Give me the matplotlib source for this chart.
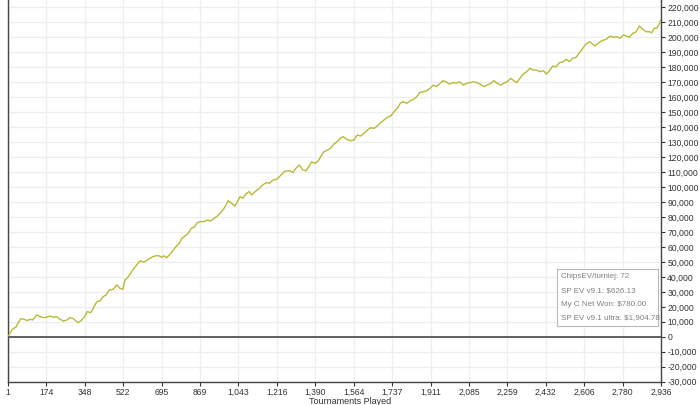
import numpy as np
import matplotlib
matplotlib.use("Agg")
import matplotlib.pyplot as plt
from matplotlib.patches import Rectangle

# cumulative chips vs tournaments played
tourneys = [1, 10, 22, 37, 47, 59, 73, 88, 100, 112, 130, 145, 163, 175, 190, 205, 220, 235,
            250, 265, 280, 295, 307, 317, 332, 347, 357, 373, 384, 400, 414, 429, 441, 456,
            474, 490, 504, 517, 527, 542,
            564, 579, 594, 612, 632, 647, 662, 677, 692, 702, 714, 726, 741, 756, 771, 782,
            797, 811, 824, 837, 852, 867, 882, 897, 912, 927, 942, 954, 969, 981, 991, 1003,
            1021, 1032, 1044, 1056, 1071, 1086,
            1096, 1111, 1126, 1146, 1161, 1175, 1193, 1209, 1224, 1242, 1256, 1269, 1281,
            1295, 1310, 1326, 1340, 1355, 1366, 1381, 1396, 1411, 1421, 1436, 1451, 1466,
            1481, 1493, 1508, 1523, 1541, 1556, 1571, 1586, 1601, 1620,
            1631, 1646, 1661, 1676, 1691, 1706, 1721, 1736, 1751, 1766, 1778, 1793, 1808,
            1823, 1838, 1853, 1868, 1883, 1898, 1913, 1925, 1940, 1955, 1970, 1985, 2000,
            2015, 2030, 2048, 2063, 2078, 2092, 2108, 2122,
            2140, 2155, 2171, 2185, 2200, 2215, 2230, 2245, 2260, 2275, 2287, 2302, 2317,
            2332, 2347, 2362, 2377, 2392, 2407, 2422, 2437, 2449, 2464, 2479, 2497, 2509,
            2524, 2539, 2554, 2569, 2584, 2599, 2614, 2629, 2639, 2654, 2669, 2689,
            2707, 2722, 2737, 2752, 2767, 2782, 2794, 2809, 2824, 2839, 2854, 2869, 2884,
            2894, 2905, 2917, 2929, 2936]
chips = [0, 2500, 5200, 6500, 9400, 12100, 11700, 10800, 11700, 11200, 14600, 13400, 12800,
         13000, 13900, 13000, 13400, 11700, 10500, 11200, 12800, 12100, 10500, 9400, 11200,
         13900, 16800, 16100, 19000, 23400, 23900, 26800, 27900, 31200, 31700, 34600, 32400,
         31700, 37900, 40100,
         45100, 47900, 50600, 49900, 51700, 53100, 54000, 54200, 53100, 54000, 52800, 54600,
         57300, 60200, 62400, 65800, 67300, 69100, 72400, 73100, 76200, 76900, 76900, 78000,
         77300, 79100, 80700, 82500, 85100, 88000, 90900, 89500, 87300, 90200, 93500, 92500,
         95500, 97000,
         94700, 96900, 98500, 101400, 102900, 102500, 104700, 105200, 107400, 110200, 110900,
         110900, 109600, 112500, 114700, 111400, 110900, 114000, 116900, 115800, 117600,
         121400, 123600, 124700, 125900, 128700, 130300, 132500, 133600, 131900, 130900,
         131400, 134700, 134100, 135900, 138500,
         139600, 139200, 140800, 143000, 144800, 146600, 147400, 150300, 152600, 156300,
         157000, 155900, 157600, 158600, 160300, 163300, 163700, 164300, 165900, 168100,
         167000, 168800, 171000, 170300, 168800, 169700, 169300, 170300, 168100, 169300,
         169700, 170300, 169700, 168800,
         167000, 168100, 169300, 171000, 169300, 168100, 169300, 170300, 172600, 171000,
         169700, 172600, 175500, 177000, 179300, 178100, 178100, 177000, 177700, 175500,
         178100, 180800, 180300, 183000, 183700, 185300, 183700, 186000, 186600, 189700,
         192600, 195500, 197000, 195500, 194200, 196000, 197700, 198600,
         200800, 200000, 200400, 199300, 201500, 200800, 200000, 202600, 203700, 207500,
         205300, 203700, 203700, 203000, 206000, 206000, 209300, 211500]

xtick_labels = ["1", "174", "348", "522", "695", "869", "1,043", "1,216", "1,390", "1,564",
                "1,737", "1,911", "2,085", "2,259", "2,432", "2,606", "2,780", "2,936"]
yticks = np.arange(-30000, 220001, 10000)

legend_rows = ["ChipsEV/turniej: 72", "SP EV v9.1: $626.13",
               "My C Net Won: $780.00", "SP EV v9.1 ultra: $1,904.78"]

plt.rcParams["font.family"] = ["Liberation Sans", "DejaVu Sans"]

fig = plt.figure(figsize=(7.0, 4.05), dpi=100)
ax = fig.add_axes([8 / 700, (405 - 381.7) / 405, (661 - 8) / 700, 381.7 / 405])

ax.plot(tourneys, chips, color="#b9b936", lw=1.0, zorder=3)
ax.axhline(0, color="#555555", lw=1.3, zorder=4)

ax.set_xlim(1, 2936)
ax.set_ylim(-30000, 224900)

ax.set_xticks(np.linspace(1, 2936, len(xtick_labels)))
ax.set_xticklabels(xtick_labels)
ax.set_yticks(yticks)
ax.set_yticklabels([f"{v:,}" for v in yticks])

ax.yaxis.tick_right()
ax.tick_params(axis="both", labelsize=6.2, colors="#333333", length=3, width=0.8,
               direction="out", pad=1.5)
ax.grid(True, color="#eeeeee", lw=0.9, zorder=0)

for side in ("left", "right", "bottom"):
    ax.spines[side].set_color("#444444")
    ax.spines[side].set_linewidth(1.0)
ax.spines["top"].set_visible(False)

fig.text(350 / 700, (405 - 397) / 405, "Tournaments Played", ha="center", va="top",
         fontsize=6.5, color="#333333")

# stats box, lower right inside the plot
fig.patches.append(Rectangle((557 / 700, (405 - 326) / 405), 101 / 700, 57 / 405,
                             transform=fig.transFigure, facecolor="white",
                             edgecolor="#b8b8b8", lw=0.8, zorder=5))
for i, row in enumerate(legend_rows):
    fig.text(561 / 700, (405 - (277 + i * 13.6)) / 405, row, ha="left", va="center",
             fontsize=5.8, color="#808080", zorder=6)

fig.savefig("out.png", dpi=100, facecolor="white")
